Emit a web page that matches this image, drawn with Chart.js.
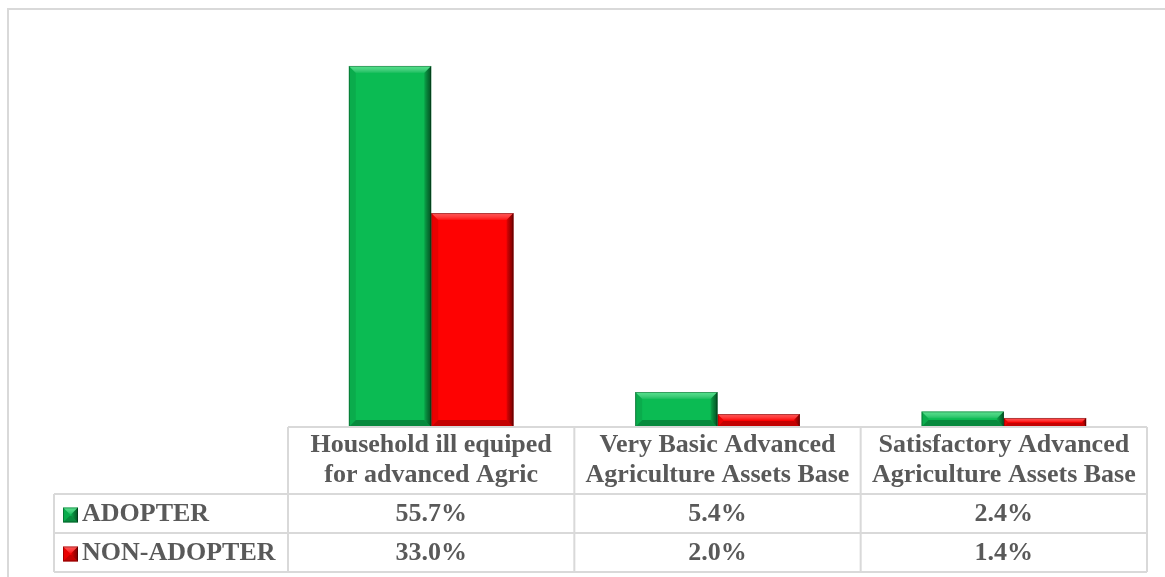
<!DOCTYPE html>
<html>
<head>
<meta charset="utf-8">
<script src="https://cdn.jsdelivr.net/npm/chart.js@4.4.1/dist/chart.umd.min.js"></script>
<style>
  html, body { margin: 0; padding: 0; background: #fff; }
  #wrap { width: 1165px; height: 577px; }
</style>
</head>
<body>
<div id="wrap"><canvas id="assetChart" width="1165" height="577"></canvas></div>
<script>
const categories = [
  ["Household ill equiped", "for advanced Agric"],
  ["Very Basic Advanced", "Agriculture Assets Base"],
  ["Satisfactory Advanced", "Agriculture Assets Base"]
];
const seriesNames = ["ADOPTER", "NON-ADOPTER"];
const adopter = [55.7, 5.4, 2.4];
const nonAdopter = [33.0, 2.0, 1.4];

const GREEN = "#0bbb53";
const RED = "#fe0202";
const GRID = "#d9d9d9";
const TEXT = "#595959";
const FONT = "bold 26px 'Liberation Serif', 'Times New Roman', serif";

// light top/left, dark right/bottom edges on each bar
function bevel(ctx, x0, y0, x1, y1, light, dark, shade) {
  const w = x1 - x0, h = y1 - y0;
  const b = Math.max(2, Math.min(7, w / 2, h / 2.2));
  ctx.save();
  const tg = ctx.createLinearGradient(0, y0, 0, y0 + b);
  tg.addColorStop(0, light);
  tg.addColorStop(1, "rgba(255,255,255,0.05)");
  ctx.fillStyle = tg;
  ctx.beginPath();
  ctx.moveTo(x0, y0); ctx.lineTo(x1, y0); ctx.lineTo(x1 - b, y0 + b); ctx.lineTo(x0 + b, y0 + b);
  ctx.closePath(); ctx.fill();
  const rg = ctx.createLinearGradient(x1 - b, 0, x1, 0);
  rg.addColorStop(0, "rgba(0,0,0,0.1)");
  rg.addColorStop(1, dark);
  ctx.fillStyle = rg;
  ctx.beginPath();
  ctx.moveTo(x1, y0); ctx.lineTo(x1, y1); ctx.lineTo(x1 - b, y1 - b); ctx.lineTo(x1 - b, y0 + b);
  ctx.closePath(); ctx.fill();
  ctx.fillStyle = shade;
  ctx.beginPath();
  ctx.moveTo(x0, y1); ctx.lineTo(x1, y1); ctx.lineTo(x1 - b, y1 - b); ctx.lineTo(x0 + b, y1 - b);
  ctx.closePath(); ctx.fill();
  ctx.fillStyle = "rgba(0,0,0,0.08)";
  ctx.beginPath();
  ctx.moveTo(x0, y0); ctx.lineTo(x0 + b, y0 + b); ctx.lineTo(x0 + b, y1 - b); ctx.lineTo(x0, y1);
  ctx.closePath(); ctx.fill();
  ctx.strokeStyle = "rgba(0,0,0,0.3)";
  ctx.lineWidth = 1;
  ctx.strokeRect(x0 + 0.5, y0 + 0.5, w - 1, h - 1);
  ctx.restore();
}

const shades = [
  { light: "rgba(120,255,170,0.6)", dark: "rgba(0,40,15,0.7)", shade: "rgba(0,50,20,0.35)" },
  { light: "rgba(255,150,150,0.55)", dark: "rgba(70,0,0,0.7)", shade: "rgba(90,0,0,0.35)" }
];

const barBevel = {
  id: "barBevel",
  afterDatasetsDraw(chart) {
    const ctx = chart.ctx;
    chart.data.datasets.forEach((ds, i) => {
      chart.getDatasetMeta(i).data.forEach(bar => {
        const p = bar.getProps(["x", "y", "base", "width"], true);
        const s = shades[i];
        bevel(ctx, p.x - p.width / 2, p.y, p.x + p.width / 2, p.base, s.light, s.dark, s.shade);
      });
    });
  }
};

// data table under the plot, columns follow the x scale
const dataTable = {
  id: "dataTable",
  beforeDraw(chart) {
    const ctx = chart.ctx;
    ctx.save();
    ctx.strokeStyle = GRID;
    ctx.lineWidth = 2;
    ctx.beginPath();
    ctx.moveTo(8, 577); ctx.lineTo(8, 9); ctx.lineTo(1165, 9);
    ctx.stroke();
    ctx.restore();
  },
  afterDraw(chart) {
    const ctx = chart.ctx;
    const xs = chart.scales.x;
    const area = chart.chartArea;
    const half = (xs.getPixelForValue(1) - xs.getPixelForValue(0)) / 2;
    const edges = [xs.getPixelForValue(0) - half];
    categories.forEach((c, i) => edges.push(xs.getPixelForValue(i) + half));
    const top = area.bottom, headBottom = top + 67, rowH = 39;
    const left = 54, right = edges[edges.length - 1];

    ctx.save();
    ctx.strokeStyle = GRID;
    ctx.lineWidth = 2;
    ctx.beginPath();
    ctx.moveTo(edges[0], top); ctx.lineTo(right, top);
    for (let r = 0; r <= 2; r++) {
      ctx.moveTo(left, headBottom + r * rowH); ctx.lineTo(right, headBottom + r * rowH);
    }
    edges.forEach(x => { ctx.moveTo(x, top); ctx.lineTo(x, headBottom + 2 * rowH); });
    ctx.moveTo(left, headBottom); ctx.lineTo(left, headBottom + 2 * rowH);
    ctx.stroke();

    ctx.fillStyle = TEXT;
    ctx.font = FONT;
    ctx.textAlign = "center";
    ctx.textBaseline = "middle";
    categories.forEach((lines, i) => {
      const cx = xs.getPixelForValue(i);
      lines.forEach((t, k) => ctx.fillText(t, cx, top + 18 + k * 30));
    });

    chart.data.datasets.forEach((ds, r) => {
      const cy = headBottom + r * rowH + rowH / 2 + 1;
      ds.data.forEach((v, i) => ctx.fillText(v.toFixed(1) + "%", xs.getPixelForValue(i), cy));
      // legend key
      const kx = 63, ky = cy - 7, k = 15;
      ctx.fillStyle = ds.backgroundColor;
      ctx.fillRect(kx, ky, k, k);
      bevel(ctx, kx, ky, kx + k, ky + k, shades[r].light, shades[r].dark, shades[r].shade);
      ctx.fillStyle = TEXT;
      ctx.textAlign = "left";
      ctx.fillText(ds.label, kx + k + 4, cy);
      ctx.textAlign = "center";
    });
    ctx.restore();
  }
};

new Chart(document.getElementById("assetChart"), {
  type: "bar",
  data: {
    labels: categories,
    datasets: [
      { label: seriesNames[0], data: adopter, backgroundColor: GREEN },
      { label: seriesNames[1], data: nonAdopter, backgroundColor: RED }
    ]
  },
  options: {
    responsive: false,
    animation: false,
    layout: { padding: { left: 288, right: 18, top: 38, bottom: 150 } },
    datasets: { bar: { categoryPercentage: 0.575, barPercentage: 1.0 } },
    scales: {
      x: { display: false },
      y: { display: false, min: 0, max: 60 }
    },
    plugins: { legend: { display: false }, tooltip: { enabled: false } }
  },
  plugins: [barBevel, dataTable]
});
</script>
</body>
</html>
